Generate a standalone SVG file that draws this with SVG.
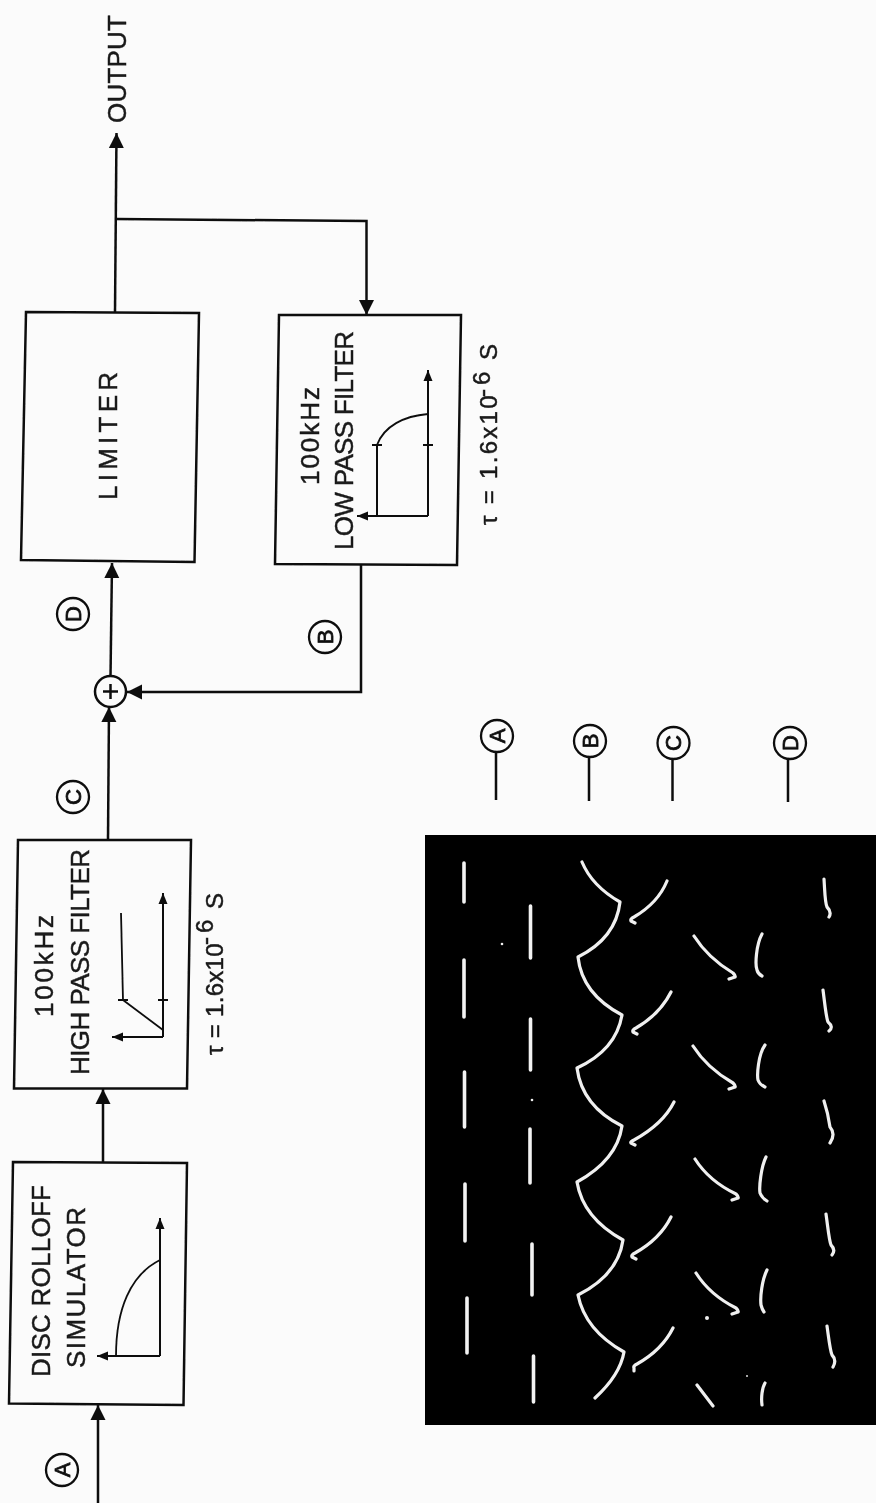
<svg xmlns="http://www.w3.org/2000/svg" width="876" height="1503" viewBox="0 0 876 1503">
<defs>
<filter id="soft" x="-5%" y="-5%" width="110%" height="110%"><feGaussianBlur stdDeviation="0.45"/></filter>
<marker id="big" markerUnits="userSpaceOnUse" markerWidth="17" markerHeight="17" refX="15" refY="8" orient="auto"><path d="M0,0.500 L15,8 L0,15.500 Z" fill="#111"/></marker>
<marker id="small" markerUnits="userSpaceOnUse" markerWidth="12" markerHeight="10" refX="11" refY="5" orient="auto"><path d="M0,0.500 L11,5 L0,9.500 Z" fill="#111"/></marker>
</defs>
<style>
.box{fill:none;stroke:#111;stroke-width:2.5;stroke-linejoin:miter}
.wire{fill:none;stroke:#111;stroke-width:2.5}
.graph{fill:none;stroke:#111;stroke-width:2}
.curve{fill:none;stroke:#111;stroke-width:1.8}
.t{font-family:"Liberation Sans",Arial,sans-serif;fill:#1a1a1a;stroke:#1a1a1a;stroke-width:.45;font-size:26px}
.tau{font-family:"Liberation Sans",Arial,sans-serif;fill:#1a1a1a;stroke:#1a1a1a;stroke-width:.45;font-size:24px}
.sup{letter-spacing:4px}
.lc{fill:none;stroke:#111;stroke-width:2.3}
.lt{font-family:"Liberation Sans",Arial,sans-serif;fill:#111;stroke:#111;stroke-width:.8;font-size:22px;text-anchor:middle}
.tr{fill:none;stroke:#f0f0f0;stroke-width:3.2;stroke-linecap:round;stroke-linejoin:round}
.dash{fill:none;stroke:#f2f2f2;stroke-width:3.6;stroke-linecap:round}
</style>
<rect width="876" height="1503" fill="#fbfbfb"/>
<g id="connectors" filter="url(#soft)">
<path class="wire" d="M98,1503V1405" marker-end="url(#big)"/>
<path class="wire" d="M103,1163V1089" marker-end="url(#big)"/>
<path class="wire" d="M108,840L109,707" marker-end="url(#big)"/>
<path class="wire" d="M110.500,676L112,563" marker-end="url(#big)"/>
<path class="wire" d="M115,312L116.500,133" marker-end="url(#big)"/>
<path class="wire" d="M116,219L366.500,221V315" marker-end="url(#big)"/>
<path class="wire" d="M361,565V692H127" marker-end="url(#big)"/>
</g>
<g id="disc-rolloff-simulator" filter="url(#soft)">
<path class="box" d="M13,1162L187,1163L183.500,1405L9,1403.500Z"/>
<text class="t" transform="translate(50,1377) rotate(-90)" textLength="192">DISC ROLLOFF</text>
<text class="t" transform="translate(85,1368) rotate(-90)" textLength="161">SIMULATOR</text>
<path class="graph" d="M160,1356H97" marker-end="url(#small)"/>
<path class="graph" d="M160,1356V1218" marker-end="url(#small)"/>
<path class="curve" d="M116,1356C116,1310 130,1275 160,1260"/>
</g>
<g id="high-pass-filter" filter="url(#soft)">
<path class="box" d="M18,840H191L187,1088.500H14Z"/>
<text class="t" transform="translate(53,1017) rotate(-90)" textLength="102">100kHz</text>
<text class="t" transform="translate(89,1075) rotate(-90)" textLength="226">HIGH PASS FILTER</text>
<path class="graph" d="M163,1037H112" marker-end="url(#small)"/>
<path class="graph" d="M163,1037V893" marker-end="url(#small)"/>
<path class="curve" d="M163,1030L123,1000L121,913M118,1000H128M158,1000H168"/>
<text class="tau" letter-spacing="0.3" transform="translate(223,1055) rotate(-90)">τ = 1.6x10<tspan class="sup" x="110" dy="-10">-6</tspan><tspan x="146" dy="10">S</tspan></text>
</g>
<g id="summing-junction" filter="url(#soft)">
<circle cx="110.500" cy="691.500" r="15.500" fill="#fbfbfb" stroke="#111" stroke-width="2.500"/>
<path class="wire" d="M110.500,684V699M103,691.500H118"/>
</g>
<g id="limiter" filter="url(#soft)">
<path class="box" d="M26,312L199,313L194.500,562L21,560Z"/>
<text class="t" transform="translate(117,500) rotate(-90)" textLength="128">LIMITER</text>
</g>
<g id="low-pass-filter" filter="url(#soft)">
<path class="box" d="M279,315H461L457,565L275,564Z"/>
<text class="t" transform="translate(319,485) rotate(-90)" textLength="98">100kHz</text>
<text class="t" transform="translate(353,550) rotate(-90)" textLength="219">LOW PASS FILTER</text>
<path class="graph" d="M428,516H357" marker-end="url(#small)"/>
<path class="graph" d="M428,516V370" marker-end="url(#small)"/>
<path class="graph" d="M377,516V445"/>
<path class="curve" d="M377,445C384,426 404,416 428,414M372,445H382M423,445H433"/>
<text class="tau" letter-spacing="2.3" transform="translate(497,525) rotate(-90)">τ = 1.6x10<tspan class="sup" x="128" dy="-7">-6</tspan><tspan x="165" dy="7">S</tspan></text>
</g>
<g id="output" filter="url(#soft)">
<text class="t" transform="translate(126,123) rotate(-90)" textLength="108">OUTPUT</text>
</g>
<g id="label-a-in" filter="url(#soft)"><circle class="lc" cx="62" cy="1470" r="16"/><text class="lt" transform="translate(70,1470) rotate(-90)">A</text></g>
<g id="label-c-top" filter="url(#soft)"><circle class="lc" cx="73" cy="797" r="16"/><text class="lt" transform="translate(81,797) rotate(-90)">C</text></g>
<g id="label-d-top" filter="url(#soft)"><circle class="lc" cx="73" cy="614" r="16"/><text class="lt" transform="translate(81,614) rotate(-90)">D</text></g>
<g id="label-b-top" filter="url(#soft)"><circle class="lc" cx="325" cy="637" r="16"/><text class="lt" transform="translate(333,637) rotate(-90)">B</text></g>
<g id="oscillogram">
<rect x="425" y="835" width="451" height="590" fill="#000"/>
<g filter="url(#soft)">
<path class="dash" d="M464,863V902M464,960V1017M464.500,1072V1127M465,1184V1241M467,1298V1353"/>
<path class="dash" d="M530.500,906V958M530.500,1019V1070M530,1129V1183M532,1244V1295M533.500,1356V1402"/>
<path class="tr" d="M582,862Q592,886 620,902Q616,938 578,957Q582,994 622,1015Q616,1050 577,1068Q582,1106 622,1126Q617,1160 577,1182Q583,1218 623,1240Q618,1275 578,1295Q585,1330 624,1352Q620,1375 595,1398"/>
<path class="tr" d="M667,881q-9,22 -33,36q-4,2 -3,4l4,2M671,992q-11,22 -35,36q-4,2 -3,4l4,2M674,1102q-11,22 -40,38q-4,2 -3,3l4,2M671,1217q-11,22 -36,36q-4,2 -3,4l4,2M673,1328q-11,22 -36,36q-4,2 -3,4v3"/>
<path class="tr" d="M694,936q14,22 39,37q3,3 2,4l-6,2M693,1046q14,22 40,37q3,3 2,4l-6,2M695,1159q14,22 41,35q3,3 2,4l-6,2M696,1273q14,22 40,35q3,3 2,4l-6,2M697,1385l16,21"/>
<path class="tr" d="M762,934C756,945 755,965 757,970Q758,974 762,976M765,1045C758,1055 757,1075 758,1080Q760,1085 765,1087M766,1157C761,1167 759,1187 760,1193Q762,1198 767,1201M767,1270C762,1280 760,1297 761,1305Q762,1309 764,1312M765,1383C762,1388 761,1398 762,1405"/>
<path class="tr" d="M824,879C825,895 825,903 827,907Q832,912 829,917M823,990C825,1005 826,1017 828,1022Q834,1027 829,1031M824,1101C827,1110 829,1120 830,1127Q836,1134 830,1143M826,1214C828,1228 829,1240 831,1245Q836,1250 832,1255M827,1326C829,1340 830,1350 832,1355Q837,1360 833,1367"/>
<circle cx="502" cy="944" r="1.300" fill="#eee"/><circle cx="707" cy="1318" r="2" fill="#eee"/><circle cx="532" cy="1100" r="1.300" fill="#eee"/><circle cx="747" cy="1376" r="1" fill="#ddd"/>
</g>
</g>
<g id="label-a-low" filter="url(#soft)"><circle class="lc" cx="497" cy="736" r="16"/><text class="lt" transform="translate(505,736) rotate(-90)">A</text><path class="wire" d="M496,752V800"/></g>
<g id="label-b-low" filter="url(#soft)"><circle class="lc" cx="590" cy="741" r="16"/><text class="lt" transform="translate(598,741) rotate(-90)">B</text><path class="wire" d="M589,757V801"/></g>
<g id="label-c-low" filter="url(#soft)"><circle class="lc" cx="673.500" cy="743" r="16"/><text class="lt" transform="translate(681,743) rotate(-90)">C</text><path class="wire" d="M672.500,759V801"/></g>
<g id="label-d-low" filter="url(#soft)"><circle class="lc" cx="790" cy="743" r="16"/><text class="lt" transform="translate(798,743) rotate(-90)">D</text><path class="wire" d="M788,759V802"/></g>
</svg>
